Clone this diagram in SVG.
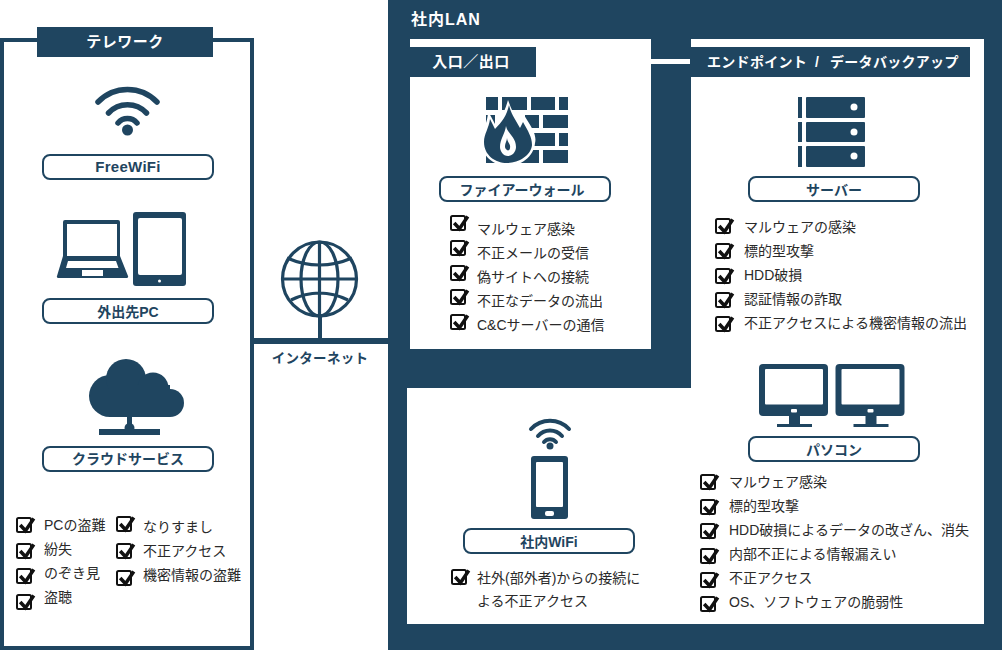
<svg xmlns="http://www.w3.org/2000/svg" width="1002" height="650" viewBox="0 0 1002 650">
<style>
text{font-family:"Liberation Sans","Noto Sans CJK JP",sans-serif}
.d{fill:#1f4560}
.h{fill:#fff;font-size:15px;font-weight:700;letter-spacing:.5px;text-anchor:middle}
.p{fill:#fff;stroke:#1f4560;stroke-width:2}
.l{fill:#1f4560;font-size:14px;font-weight:700;text-anchor:middle}
.c{fill:#2a2a2a;font-size:14px}
.w{fill:none;stroke:#1f4560;stroke-linecap:round}
</style>
<defs>
<g id="chk"><rect x="1" y="3" width="14" height="14" rx="1.500" fill="none" stroke="#111" stroke-width="2"/><path d="M4.200 10L9.500 15.800L17.800 3.500" fill="none" stroke="#111" stroke-width="3.500"/></g>
</defs>
<rect width="1002" height="650" fill="#fff"/>
<g id="lan">
<path class="d" d="M388 0H1002V650H388Z"/>
<path fill="#fff" d="M410 39H651V349H410ZM691 39H984V624H407V388H691Z"/>
<text x="411" y="25" fill="#fff" font-size="16" font-weight="700" letter-spacing="1">社内LAN</text>
</g>
<g id="connectors">
<rect x="254" y="338" width="134" height="6" class="d"/>
<rect x="318" y="315" width="4" height="24" class="d"/>
<rect x="651" y="59" width="39" height="5" fill="#fff"/>
</g>
<g id="telework">
<rect x="2" y="40" width="250" height="608" fill="#fff" stroke="#1f4560" stroke-width="4"/>
<rect x="37" y="27" width="176" height="30" class="d"/>
<text x="125" y="47" class="h">テレワーク</text>
</g>
<g id="freewifi">
<path class="w" stroke-width="5.500" d="M98 102A41 41 0 0 1 157 102"/>
<path class="w" stroke-width="5.500" d="M108.500 113A26 26 0 0 1 146.500 113"/>
<path class="w" stroke-width="5.500" d="M118 123A12.500 12.500 0 0 1 137 123"/>
<circle cx="127.500" cy="130" r="5.500" class="d"/>
<rect class="p" x="43" y="155" width="170" height="24" rx="7"/>
<text x="128" y="172" class="l" style="font-size:15px;letter-spacing:.3px">FreeWiFi</text>
</g>
<g id="pc-out">
<path class="d" d="M65 220H118a2 2 0 0 1 2 2V256L128 276a1.500 1.500 0 0 1-1 2H58a1.500 1.500 0 0 1-1-2L63 256V222a2 2 0 0 1 2-2Z"/>
<rect x="67" y="224" width="50" height="32" fill="#fff"/>
<path d="M68 261H116L118.500 268H66ZM82 270H103V276H82Z" fill="#fff"/>
<rect x="133" y="212" width="53" height="74" rx="3" class="d"/>
<rect x="138" y="218" width="44" height="57" rx="2" fill="#fff"/>
<circle cx="159.500" cy="281" r="1.500" fill="#fff"/>
<rect class="p" x="43" y="299" width="170" height="24" rx="7"/>
<text x="128" y="317" class="l">外出先PC</text>
</g>
<g id="cloud">
<g class="d">
<circle cx="110" cy="396" r="21"/><circle cx="126" cy="379" r="20"/><circle cx="153" cy="388" r="15.500"/><circle cx="170" cy="403" r="14"/><rect x="110" y="385" width="60" height="32"/>
<rect x="127" y="416" width="5" height="10"/><circle cx="129.500" cy="428" r="5"/><rect x="99" y="429" width="61" height="6"/>
</g>
<rect class="p" x="43" y="447" width="170" height="24" rx="7"/>
<text x="128" y="464" class="l">クラウドサービス</text>
</g>
<g id="telework-risks">
<use href="#chk" x="16" y="515"/><use href="#chk" x="16" y="541"/><use href="#chk" x="16" y="566"/><use href="#chk" x="16" y="592"/>
<use href="#chk" x="116" y="514"/><use href="#chk" x="116" y="541"/><use href="#chk" x="116" y="568"/>
<text class="c" x="44" y="530">PCの盗難</text><text class="c" x="44" y="554">紛失</text><text class="c" x="44" y="578">のぞき見</text><text class="c" x="44" y="602">盗聴</text>
<text class="c" x="143" y="532">なりすまし</text><text class="c" x="143" y="556">不正アクセス</text><text class="c" x="143" y="580">機密情報の盗難</text>
</g>
<g id="internet">
<g fill="none" stroke="#1f4560" stroke-width="3.200">
<circle cx="319.500" cy="279" r="37"/>
<ellipse cx="319.500" cy="279" rx="18.500" ry="37"/>
<path d="M319.500 242V316M283 279H356M287 258Q319.500 272 352 258M291 300Q319.500 286 348 300"/>
</g>
<text x="320" y="363" class="l" style="font-size:13.500px;letter-spacing:.3px">インターネット</text>
</g>
<g id="entrance">
<rect x="410" y="47" width="126" height="30" class="d"/>
<text x="471" y="67" class="h">入口／出口</text>
</g>
<g id="firewall">
<path class="d" d="M486 97H498V110H486ZM502 97H527V110H502ZM531 97H555V110H531ZM559 97H568V110H559ZM486 115H495V128H486ZM525 115H539V128H525ZM543 115H568V128H543ZM530 133H555V146H530ZM559 133H568V146H559ZM486 150H539V163H486ZM543 150H568V163H543Z"/>
<path fill="#fff" d="M508 100C512 110 512 113 522 123L524 115C532 128 537 135 535 143C534 157 520 166 508 166C493 166 481 155 481 141C481 130 488 125 488 111L495 124C502 118 505 110 508 100Z"/>
<path class="d" d="M509 105C511 114 514 117 520 128L523 122C528 131 532 137 532 145C531 156 518 163 507 163C495 163 484 155 484 142C484 134 489 128 490 119L495 129C502 122 507 115 509 105Z"/>
<path fill="#fff" d="M506 126C507 133 516 137 516 147C516 152 512 156 508 156C503 156 500 151 500 147C500 139 505 134 506 126Z"/>
<path class="d" d="M507 138C507 142 511 144 510 148C510 150 508 151 507 150C505 149 505 147 505 146C505 143 507 141 507 138Z"/>
<rect class="p" x="440" y="177" width="170" height="24" rx="7"/>
<text x="522" y="195" class="l">ファイアーウォール</text>
</g>
<g id="firewall-risks">
<use href="#chk" x="450" y="213"/><use href="#chk" x="450" y="238"/><use href="#chk" x="450" y="263"/><use href="#chk" x="450" y="287"/><use href="#chk" x="450" y="312"/>
<text class="c" x="477" y="234">マルウェア感染</text><text class="c" x="477" y="258">不正メールの受信</text><text class="c" x="477" y="282">偽サイトへの接続</text><text class="c" x="477" y="306">不正なデータの流出</text><text class="c" x="477" y="330">C&amp;Cサーバーの通信</text>
</g>
<g id="endpoint">
<rect x="690" y="47" width="280" height="30" class="d"/>
<text y="67" fill="#fff" font-size="14" font-weight="700" letter-spacing=".3"><tspan x="707">エンドポイント</tspan><tspan x="815">/</tspan><tspan x="830">データバックアップ</tspan></text>
</g>
<g id="server">
<rect x="798" y="97" width="4" height="21" class="d"/><rect x="806" y="97" width="59" height="21" rx="1" class="d"/><circle cx="854" cy="107" r="3.500" fill="#fff"/>
<rect x="798" y="122" width="4" height="20" class="d"/><rect x="806" y="122" width="59" height="20" rx="1" class="d"/><circle cx="854" cy="132" r="3.500" fill="#fff"/>
<rect x="798" y="146" width="4" height="21" class="d"/><rect x="806" y="146" width="59" height="21" rx="1" class="d"/><circle cx="854" cy="156" r="3.500" fill="#fff"/>
<rect class="p" x="749" y="177" width="170" height="24" rx="7"/>
<text x="834" y="195" class="l">サーバー</text>
</g>
<g id="server-risks">
<use href="#chk" x="715" y="216"/><use href="#chk" x="715" y="241"/><use href="#chk" x="715" y="266"/><use href="#chk" x="715" y="290"/><use href="#chk" x="715" y="314"/>
<text class="c" x="744" y="232">マルウェアの感染</text><text class="c" x="744" y="256">標的型攻撃</text><text class="c" x="744" y="280">HDD破損</text><text class="c" x="744" y="304">認証情報の詐取</text><text class="c" x="744" y="328">不正アクセスによる機密情報の流出</text>
</g>
<g id="pasokon">
<g id="mon">
<rect x="759" y="364" width="69" height="52" rx="4" class="d"/>
<rect x="765" y="369" width="58" height="35.500" rx="1" fill="#fff"/>
<rect x="791" y="409" width="6" height="3.500" rx="1" fill="#fff"/>
<rect x="789" y="416" width="11" height="11" class="d"/>
<rect x="777" y="424" width="35" height="3" class="d"/>
</g>
<use href="#mon" x="76.500"/>
<rect class="p" x="749" y="437" width="170" height="24" rx="7"/>
<text x="834" y="455" class="l">パソコン</text>
</g>
<g id="pc-risks">
<use href="#chk" x="700" y="472"/><use href="#chk" x="700" y="497"/><use href="#chk" x="700" y="521"/><use href="#chk" x="700" y="546"/><use href="#chk" x="700" y="570"/><use href="#chk" x="700" y="594"/>
<text class="c" x="729" y="487">マルウェア感染</text><text class="c" x="729" y="511">標的型攻撃</text><text class="c" x="729" y="535">HDD破損によるデータの改ざん、消失</text><text class="c" x="729" y="559">内部不正による情報漏えい</text><text class="c" x="729" y="583">不正アクセス</text><text class="c" x="729" y="607">OS、ソフトウェアの脆弱性</text>
</g>
<g id="shanai-wifi">
<path class="w" stroke-width="4" d="M531 429A26 26 0 0 1 569 429"/>
<path class="w" stroke-width="4" d="M538 436A16 16 0 0 1 562 436"/>
<path class="w" stroke-width="4" d="M544 442A8 8 0 0 1 556 442"/>
<circle cx="550" cy="446" r="3.500" class="d"/>
<rect x="531" y="456" width="37" height="63" rx="3" class="d"/>
<rect x="536" y="462" width="27" height="45" rx="1" fill="#fff"/>
<rect x="545" y="511" width="9" height="5" rx="2" fill="#fff"/>
<rect class="p" x="464" y="529" width="170" height="24" rx="7"/>
<text x="549" y="547" class="l">社内WiFi</text>
</g>
<g id="wifi-risks">
<use href="#chk" x="451" y="567"/>
<text class="c" x="477" y="583">社外(部外者)からの接続に</text><text class="c" x="477" y="606">よる不正アクセス</text>
</g>
</svg>
